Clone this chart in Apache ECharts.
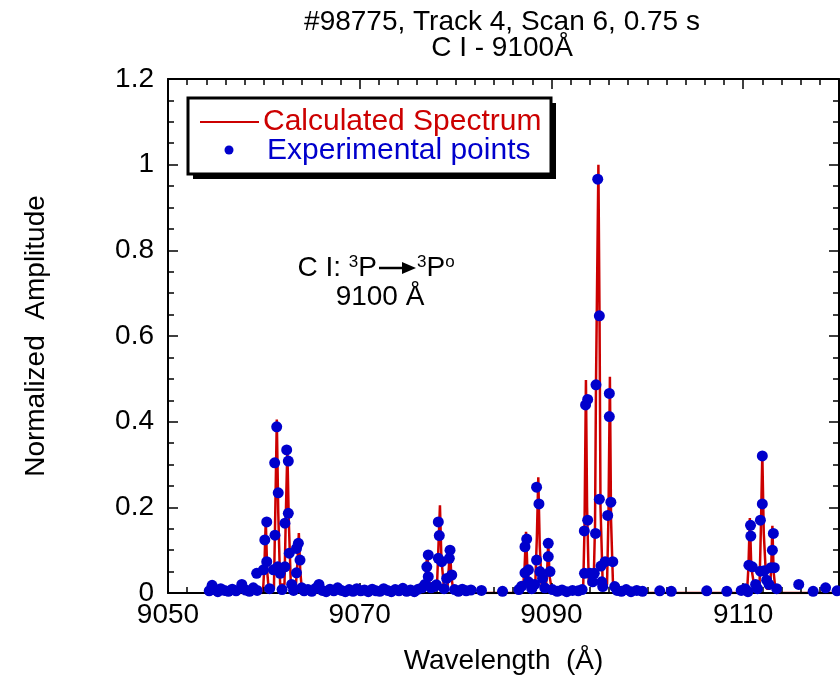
<!DOCTYPE html>
<html><head><meta charset="utf-8">
<script src="https://cdn.jsdelivr.net/npm/echarts@6/dist/echarts.min.js"></script>
<style>html,body{margin:0;padding:0;background:#fff}#c{width:840px;height:682px}</style>
</head><body><div id="c"></div>
<script>
// ---- data ----
const xTickLabels = [9050, 9070, 9090, 9110];
const yTickLabels = ['0', '0.2', '0.4', '0.6', '0.8', '1', '1.2'];

const calcWavelength = [
  9054.0, 9059.9, 9060.05, 9060.2, 9060.35, 9060.5, 9061.05, 9061.2, 9061.35, 9061.5, 9061.7,
  9062.15, 9062.3, 9062.45, 9062.6, 9062.8, 9063.35, 9063.5, 9063.65, 9063.8, 9064.0,
  9076.7, 9076.9, 9077.05, 9077.2, 9077.5, 9078.05, 9078.2, 9078.37, 9078.52, 9078.8,
  9079.15, 9079.3, 9079.42, 9079.55, 9079.8,
  9087.0, 9087.2, 9087.35, 9087.5, 9087.8, 9088.3, 9088.48, 9088.63, 9088.78, 9089.0,
  9089.4, 9089.55, 9089.67, 9089.8, 9090.1,
  9093.3, 9093.45, 9093.6, 9093.72, 9093.9, 9094.4, 9094.55, 9094.65, 9094.9, 9095.02, 9095.12,
  9095.35, 9095.8, 9095.95, 9096.1, 9096.22, 9096.45,
  9110.4, 9110.55, 9110.7, 9110.85, 9111.2, 9111.7, 9111.85, 9112.0, 9112.15, 9112.45,
  9112.8, 9112.93, 9113.05, 9113.18, 9113.4, 9120.0
];
const calcAmplitude = [
  0, 0, 0.06, 0.17, 0.05, 0.01, 0.01, 0.2, 0.405, 0.19, 0.02,
  0.02, 0.19, 0.335, 0.17, 0.03, 0.02, 0.07, 0.14, 0.05, 0,
  0, 0.04, 0.10, 0.03, 0.01, 0.01, 0.1, 0.205, 0.08, 0.01,
  0.01, 0.06, 0.11, 0.04, 0,
  0, 0.06, 0.143, 0.05, 0.01, 0.01, 0.13, 0.27, 0.11, 0.01,
  0.01, 0.05, 0.12, 0.04, 0,
  0, 0.15, 0.497, 0.2, 0.02, 0.02, 0.16, 0.49, 1.0, 0.64, 0.2,
  0.02, 0.02, 0.18, 0.505, 0.17, 0,
  0, 0.06, 0.175, 0.06, 0.01, 0.01, 0.15, 0.325, 0.14, 0.01,
  0.01, 0.06, 0.157, 0.05, 0, 0
];

const expWavelength = [
  9054.3, 9054.6, 9054.9, 9055.2, 9055.5, 9055.9, 9056.3, 9056.7, 9057.1, 9057.7, 9058.1, 9058.5, 9058.9, 9059.3,
  9059.25, 9059.95, 9060.1, 9060.3, 9060.3, 9060.6, 9061.0, 9061.13, 9061.16, 9061.34, 9061.45, 9061.5, 9061.7, 9061.9,
  9062.2, 9062.2, 9062.38, 9062.55, 9062.55, 9062.65, 9062.9, 9063.1, 9063.4, 9063.4, 9063.6, 9063.77, 9063.95, 9064.2,
  9064.6, 9065.0, 9065.4, 9065.75, 9066.1, 9066.5, 9066.9, 9067.3, 9067.7, 9068.1, 9068.5, 9068.9, 9069.3, 9069.7,
  9070.1, 9070.5, 9070.9, 9071.3, 9071.7, 9072.1, 9072.5, 9072.9, 9073.3, 9073.7, 9074.1, 9074.5, 9074.9, 9075.3,
  9075.7, 9076.1, 9076.5,
  9076.8, 9077.0, 9077.15, 9077.15, 9077.45, 9077.8, 9078.2, 9078.3, 9078.2, 9078.55, 9078.0, 9078.8, 9079.07, 9079.35,
  9079.42, 9079.6, 9079.9,
  9080.3, 9080.7, 9081.1, 9081.6, 9082.7, 9084.9, 9086.6,
  9086.9, 9087.24, 9087.24, 9087.42, 9087.6, 9087.6, 9087.95, 9088.25, 9088.45, 9088.45, 9088.7, 9088.8, 9089.07,
  9089.3, 9089.67, 9089.67, 9089.85, 9090.1,
  9090.6, 9091.1, 9091.6, 9092.2, 9092.8,
  9093.2, 9093.43, 9093.45, 9093.56, 9093.78, 9093.78, 9094.02, 9094.3, 9094.47, 9094.6, 9094.65, 9094.83, 9095.0,
  9095.0, 9095.17, 9095.25, 9095.35, 9095.6, 9095.87, 9096.04, 9096.04, 9096.2, 9096.4, 9096.6, 9096.85,
  9097.3, 9097.8, 9098.3, 9098.9, 9099.5, 9101.3, 9102.5, 9106.2, 9108.3, 9109.8, 9110.2,
  9110.5, 9110.6, 9110.77, 9110.8, 9110.95, 9111.3, 9111.5, 9111.8, 9111.8, 9112.0, 9112.0, 9112.2, 9112.45,
  9112.7, 9112.9, 9113.05, 9113.15, 9113.25, 9113.5,
  9115.8, 9117.3, 9118.6, 9119.8
];
const expAmplitude = [
  0.005, 0.018, 0.008, 0.003, 0.01, 0.006, 0.004, 0.009, 0.005, 0.02, 0.007, 0.004, 0.012, 0.006,
  0.046, 0.054, 0.124, 0.166, 0.073, 0.01, 0.054, 0.304, 0.135, 0.388, 0.061, 0.234, 0.046, 0.008,
  0.163, 0.061, 0.334, 0.308, 0.186, 0.093, 0.02, 0.006, 0.104, 0.047, 0.116, 0.077, 0.012, 0.005,
  0.008, 0.004, 0.011, 0.02, 0.006, 0.003, 0.009, 0.005, 0.012, 0.006, 0.003, 0.008, 0.004, 0.01,
  0.005, 0.007, 0.003, 0.009, 0.005, 0.004, 0.01, 0.006, 0.003, 0.008, 0.005, 0.011, 0.004, 0.007,
  0.003, 0.009, 0.012,
  0.02, 0.061, 0.089, 0.038, 0.012, 0.015, 0.166, 0.134, 0.081, 0.073, 0.019, 0.01, 0.034, 0.081,
  0.1, 0.042, 0.008,
  0.004, 0.009, 0.005, 0.007, 0.006, 0.004, 0.008,
  0.016, 0.108, 0.047, 0.126, 0.054, 0.026, 0.01, 0.02, 0.247, 0.077, 0.208, 0.05, 0.034,
  0.012, 0.116, 0.085, 0.05, 0.008,
  0.004, 0.007, 0.003, 0.006, 0.005,
  0.008, 0.145, 0.046, 0.439, 0.452, 0.17, 0.046, 0.026, 0.046, 0.139, 0.486, 0.966, 0.647,
  0.219, 0.063, 0.026, 0.015, 0.073, 0.181, 0.466, 0.412, 0.212, 0.073, 0.015, 0.006,
  0.004, 0.008, 0.003, 0.006, 0.004, 0.005, 0.004, 0.005, 0.004, 0.006, 0.01,
  0.003, 0.065, 0.158, 0.133, 0.061, 0.02, 0.01, 0.17, 0.051, 0.32, 0.208, 0.052, 0.03,
  0.02, 0.059, 0.1, 0.139, 0.059, 0.01,
  0.02, 0.004, 0.012, 0.005
];

// ---- chart ----
const FONT = '"Liberation Sans", Arial, Helvetica, sans-serif';
const BLACK = '#000';
const RED = '#cc0000';
const BLUE = '#0000cc';

function xAxisDef(position, interval, tickLen, withLabels, withLine) {
  const ax = {
    type: 'value', position: position, min: 9050, max: 9120, interval: interval, z: 3,
    axisLine: { show: withLine, onZero: false, lineStyle: { color: BLACK, width: 2 } },
    axisTick: { show: true, inside: true, length: tickLen, lineStyle: { color: BLACK, width: 1.5 } },
    axisLabel: { show: withLabels },
    splitLine: { show: false },
    minorTick: { show: false }
  };
  if (withLabels) {
    ax.axisLabel = {
      show: true, color: BLACK, fontFamily: FONT, fontSize: 28, margin: 8,
      formatter: v => (xTickLabels.indexOf(Math.round(v)) >= 0 ? String(Math.round(v)) : '')
    };
    ax.name = 'Wavelength  (\u00C5)';
    ax.nameLocation = 'middle';
    ax.nameGap = 54;
    ax.nameTextStyle = { color: BLACK, fontFamily: FONT, fontSize: 28 };
  }
  return ax;
}

function yAxisDef(position, withLabels) {
  const ax = {
    type: 'value', position: position, min: 0, max: 1.2, interval: 0.2, z: 3,
    axisLine: { show: true, onZero: false, lineStyle: { color: BLACK, width: 2 } },
    axisTick: { show: true, inside: true, length: 10, lineStyle: { color: BLACK, width: 1.5 } },
    minorTick: { show: true, splitNumber: 4, length: 6, lineStyle: { color: BLACK, width: 1.5 } },
    splitLine: { show: false },
    minorSplitLine: { show: false },
    axisLabel: { show: false }
  };
  if (withLabels) {
    ax.axisLabel = {
      show: true, color: BLACK, fontFamily: FONT, fontSize: 28, margin: 14,
      formatter: v => yTickLabels[Math.round(v / 0.2)]
    };
    ax.name = 'Normalized  Amplitude';
    ax.nameLocation = 'middle';
    ax.nameGap = 118;
    ax.nameTextStyle = { color: BLACK, fontFamily: FONT, fontSize: 28 };
  }
  return ax;
}

const chart = echarts.init(document.getElementById('c'), null, { renderer: 'canvas' });
const option = {
  animation: false,
  backgroundColor: '#fff',
  grid: { left: 168, right: 1, top: 79, bottom: 89, containLabel: false, outerBoundsMode: 'none' },
  xAxis: [
    xAxisDef('bottom', 20, 10, true, true),
    xAxisDef('bottom', 2, 6, false, false),
    xAxisDef('top', 20, 10, false, true),
    xAxisDef('top', 2, 6, false, false)
  ],
  yAxis: [yAxisDef('left', true), yAxisDef('right', false)],
  series: [
    {
      name: 'Calculated Spectrum', type: 'line', xAxisIndex: 0, yAxisIndex: 0, z: 1,
      symbol: 'none', showSymbol: false,
      lineStyle: { color: RED, width: 2.5 },
      data: calcWavelength.map((x, i) => [x, calcAmplitude[i]])
    },
    {
      name: 'Experimental points', type: 'scatter', xAxisIndex: 0, yAxisIndex: 0, z: 4,
      symbol: 'circle', symbolSize: 11,
      itemStyle: { color: BLUE, opacity: 1 },
      data: expWavelength.map((x, i) => [x, expAmplitude[i]])
    }
  ],
  graphic: [
    // title
    { type: 'text', x: 502, y: 22, z: 10, style: { text: '#98775, Track 4, Scan 6, 0.75 s', font: '28px ' + FONT, fill: BLACK, align: 'center', verticalAlign: 'middle' } },
    { type: 'text', x: 502, y: 48, z: 10, style: { text: 'C I - 9100\u00C5', font: '28px ' + FONT, fill: BLACK, align: 'center', verticalAlign: 'middle' } },
    // legend box
    { type: 'rect', z: 10, shape: { x: 193, y: 103, width: 363, height: 76 }, style: { fill: BLACK } },
    { type: 'rect', z: 11, shape: { x: 188, y: 98, width: 363, height: 76 }, style: { fill: '#fff', stroke: BLACK, lineWidth: 3 } },
    { type: 'line', z: 12, shape: { x1: 200, y1: 122, x2: 259, y2: 122 }, style: { stroke: RED, lineWidth: 2 } },
    { type: 'circle', z: 12, shape: { cx: 229, cy: 150, r: 4.5 }, style: { fill: BLUE } },
    { type: 'text', x: 263, y: 122, z: 12, style: { text: 'Calculated Spectrum', font: '30px ' + FONT, fill: RED, align: 'left', verticalAlign: 'middle' } },
    { type: 'text', x: 267, y: 151, z: 12, style: { text: 'Experimental points', font: '30px ' + FONT, fill: BLUE, align: 'left', verticalAlign: 'middle' } },
    // annotation
    { type: 'text', x: 377, y: 268, z: 10, style: {
        text: 'C I: {s|3}P', font: '28px ' + FONT, fill: BLACK, align: 'right', verticalAlign: 'middle',
        rich: { s: { fontSize: 17, fontFamily: FONT, verticalAlign: 'top', fill: BLACK } } } },
    { type: 'line', z: 10, shape: { x1: 379, y1: 268, x2: 405, y2: 268 }, style: { stroke: BLACK, lineWidth: 2.5 } },
    { type: 'polygon', z: 10, shape: { points: [[402, 262], [416, 268], [402, 274]] }, style: { fill: BLACK } },
    { type: 'text', x: 417, y: 268, z: 10, style: {
        text: '{s|3}P{s|o}', font: '28px ' + FONT, fill: BLACK, align: 'left', verticalAlign: 'middle',
        rich: { s: { fontSize: 17, fontFamily: FONT, verticalAlign: 'top', fill: BLACK } } } },
    { type: 'text', x: 380, y: 297, z: 10, style: { text: '9100 \u00C5', font: '28px ' + FONT, fill: BLACK, align: 'center', verticalAlign: 'middle' } }
  ]
};
chart.setOption(option);
</script>
</body></html>
